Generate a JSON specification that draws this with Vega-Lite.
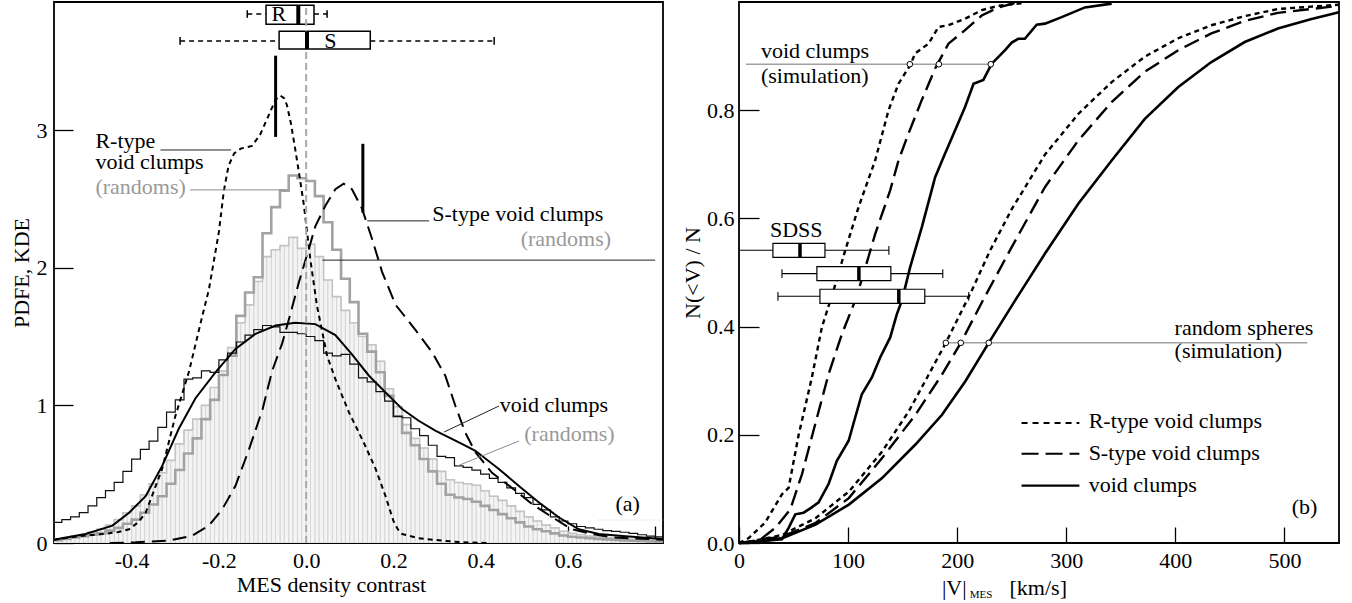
{
"$schema":"https://vega.github.io/schema/vega-lite/v6.json",
"padding":{"left":9,"top":-3,"right":5,"bottom":2},
"spacing":76,
"bounds":"flush",
"config":{
 "font":"Liberation Serif",
 "view":{"stroke":"black","strokeWidth":1.8},
 "axis":{"labelFont":"Liberation Serif","labelFontSize":22,"labelColor":"black","titleFont":"Liberation Serif","titleFontSize":22,"titleFontWeight":"normal","titleColor":"black","tickColor":"black","tickWidth":1.3,"domain":false,"grid":false,"labelFlush":false,"labelOverlap":false},
 "text":{"font":"Liberation Serif","fontSize":22,"baseline":"alphabetic"}
},
"datasets":{
"hist":[
{"x0":-0.58,"xm":-0.57,"x1":-0.56,"a":0.02,"b":0.03,"c":0.15},
{"x0":-0.56,"xm":-0.55,"x1":-0.54,"a":0.03,"b":0.04,"c":0.17},
{"x0":-0.54,"xm":-0.53,"x1":-0.52,"a":0.04,"b":0.05,"c":0.19},
{"x0":-0.52,"xm":-0.51,"x1":-0.50,"a":0.05,"b":0.06,"c":0.22},
{"x0":-0.50,"xm":-0.49,"x1":-0.48,"a":0.06,"b":0.08,"c":0.27},
{"x0":-0.48,"xm":-0.47,"x1":-0.46,"a":0.07,"b":0.10,"c":0.33},
{"x0":-0.46,"xm":-0.45,"x1":-0.44,"a":0.09,"b":0.13,"c":0.38},
{"x0":-0.44,"xm":-0.43,"x1":-0.42,"a":0.11,"b":0.17,"c":0.44},
{"x0":-0.42,"xm":-0.41,"x1":-0.40,"a":0.14,"b":0.22,"c":0.52},
{"x0":-0.40,"xm":-0.39,"x1":-0.38,"a":0.17,"b":0.27,"c":0.61},
{"x0":-0.38,"xm":-0.37,"x1":-0.36,"a":0.22,"b":0.35,"c":0.68},
{"x0":-0.36,"xm":-0.35,"x1":-0.34,"a":0.28,"b":0.43,"c":0.74},
{"x0":-0.34,"xm":-0.33,"x1":-0.32,"a":0.34,"b":0.51,"c":0.84},
{"x0":-0.32,"xm":-0.31,"x1":-0.30,"a":0.43,"b":0.60,"c":0.95},
{"x0":-0.30,"xm":-0.29,"x1":-0.28,"a":0.53,"b":0.72,"c":1.04},
{"x0":-0.28,"xm":-0.27,"x1":-0.26,"a":0.65,"b":0.82,"c":1.19},
{"x0":-0.26,"xm":-0.25,"x1":-0.24,"a":0.76,"b":0.90,"c":1.20},
{"x0":-0.24,"xm":-0.23,"x1":-0.22,"a":0.90,"b":1.00,"c":1.25},
{"x0":-0.22,"xm":-0.21,"x1":-0.20,"a":1.04,"b":1.13,"c":1.24},
{"x0":-0.20,"xm":-0.19,"x1":-0.18,"a":1.22,"b":1.25,"c":1.33},
{"x0":-0.18,"xm":-0.17,"x1":-0.16,"a":1.36,"b":1.42,"c":1.38},
{"x0":-0.16,"xm":-0.15,"x1":-0.14,"a":1.65,"b":1.60,"c":1.46},
{"x0":-0.14,"xm":-0.13,"x1":-0.12,"a":1.82,"b":1.73,"c":1.51},
{"x0":-0.12,"xm":-0.11,"x1":-0.10,"a":1.93,"b":1.90,"c":1.55},
{"x0":-0.10,"xm":-0.09,"x1":-0.08,"a":2.25,"b":2.08,"c":1.58},
{"x0":-0.08,"xm":-0.07,"x1":-0.06,"a":2.44,"b":2.13,"c":1.57},
{"x0":-0.06,"xm":-0.05,"x1":-0.04,"a":2.56,"b":2.16,"c":1.53},
{"x0":-0.04,"xm":-0.03,"x1":-0.02,"a":2.67,"b":2.22,"c":1.53},
{"x0":-0.02,"xm":-0.01,"x1":0.00,"a":2.65,"b":2.14,"c":1.52},
{"x0":0.00,"xm":0.01,"x1":0.02,"a":2.63,"b":2.17,"c":1.50},
{"x0":0.02,"xm":0.03,"x1":0.04,"a":2.52,"b":2.08,"c":1.47},
{"x0":0.04,"xm":0.05,"x1":0.06,"a":2.33,"b":1.91,"c":1.38},
{"x0":0.06,"xm":0.07,"x1":0.08,"a":2.13,"b":1.79,"c":1.36},
{"x0":0.08,"xm":0.09,"x1":0.10,"a":1.92,"b":1.69,"c":1.37},
{"x0":0.10,"xm":0.11,"x1":0.12,"a":1.75,"b":1.60,"c":1.30},
{"x0":0.12,"xm":0.13,"x1":0.14,"a":1.52,"b":1.50,"c":1.20},
{"x0":0.14,"xm":0.15,"x1":0.16,"a":1.39,"b":1.44,"c":1.17},
{"x0":0.16,"xm":0.17,"x1":0.18,"a":1.24,"b":1.32,"c":1.10},
{"x0":0.18,"xm":0.19,"x1":0.20,"a":1.07,"b":1.12,"c":1.03},
{"x0":0.20,"xm":0.21,"x1":0.22,"a":0.92,"b":0.99,"c":0.92},
{"x0":0.22,"xm":0.23,"x1":0.24,"a":0.80,"b":0.86,"c":0.91},
{"x0":0.24,"xm":0.25,"x1":0.26,"a":0.71,"b":0.76,"c":0.83},
{"x0":0.26,"xm":0.27,"x1":0.28,"a":0.61,"b":0.69,"c":0.78},
{"x0":0.28,"xm":0.29,"x1":0.30,"a":0.52,"b":0.61,"c":0.71},
{"x0":0.30,"xm":0.31,"x1":0.32,"a":0.43,"b":0.52,"c":0.63},
{"x0":0.32,"xm":0.33,"x1":0.34,"a":0.35,"b":0.46,"c":0.62},
{"x0":0.34,"xm":0.35,"x1":0.36,"a":0.33,"b":0.44,"c":0.56},
{"x0":0.36,"xm":0.37,"x1":0.38,"a":0.32,"b":0.43,"c":0.55},
{"x0":0.38,"xm":0.39,"x1":0.40,"a":0.30,"b":0.42,"c":0.53},
{"x0":0.40,"xm":0.41,"x1":0.42,"a":0.27,"b":0.38,"c":0.50},
{"x0":0.42,"xm":0.43,"x1":0.44,"a":0.24,"b":0.34,"c":0.47},
{"x0":0.44,"xm":0.45,"x1":0.46,"a":0.21,"b":0.31,"c":0.44},
{"x0":0.46,"xm":0.47,"x1":0.48,"a":0.18,"b":0.27,"c":0.40},
{"x0":0.48,"xm":0.49,"x1":0.50,"a":0.15,"b":0.23,"c":0.36},
{"x0":0.50,"xm":0.51,"x1":0.52,"a":0.12,"b":0.19,"c":0.33},
{"x0":0.52,"xm":0.53,"x1":0.54,"a":0.10,"b":0.16,"c":0.28},
{"x0":0.54,"xm":0.55,"x1":0.56,"a":0.085,"b":0.13,"c":0.24},
{"x0":0.56,"xm":0.57,"x1":0.58,"a":0.07,"b":0.11,"c":0.19},
{"x0":0.58,"xm":0.59,"x1":0.60,"a":0.055,"b":0.085,"c":0.16},
{"x0":0.60,"xm":0.61,"x1":0.62,"a":0.045,"b":0.07,"c":0.14},
{"x0":0.62,"xm":0.63,"x1":0.64,"a":0.04,"b":0.06,"c":0.12},
{"x0":0.64,"xm":0.65,"x1":0.66,"a":0.035,"b":0.05,"c":0.11},
{"x0":0.66,"xm":0.67,"x1":0.68,"a":0.03,"b":0.045,"c":0.10},
{"x0":0.68,"xm":0.69,"x1":0.70,"a":0.026,"b":0.04,"c":0.09},
{"x0":0.70,"xm":0.71,"x1":0.72,"a":0.022,"b":0.035,"c":0.085},
{"x0":0.72,"xm":0.73,"x1":0.74,"a":0.019,"b":0.03,"c":0.078},
{"x0":0.74,"xm":0.75,"x1":0.76,"a":0.016,"b":0.027,"c":0.07},
{"x0":0.76,"xm":0.77,"x1":0.78,"a":0.014,"b":0.024,"c":0.06},
{"x0":0.78,"xm":0.79,"x1":0.80,"a":0.012,"b":0.022,"c":0.05},
{"x0":0.80,"xm":0.81,"x1":0.82,"a":0.01,"b":0.02,"c":0.045},
{"x0":0.82,"xm":0.83,"x1":0.84,"a":0.01,"b":0.02,"c":0.045}
],
"kde":[
{"g":"R","x":-0.578,"y":0.024},{"g":"R","x":-0.52,"y":0.05},{"g":"R","x":-0.467,"y":0.065},{"g":"R","x":-0.43,"y":0.08},{"g":"R","x":-0.406,"y":0.1},{"g":"R","x":-0.385,"y":0.15},{"g":"R","x":-0.368,"y":0.22},{"g":"R","x":-0.35,"y":0.37},{"g":"R","x":-0.33,"y":0.54},{"g":"R","x":-0.3,"y":0.92},{"g":"R","x":-0.269,"y":1.24},{"g":"R","x":-0.238,"y":1.65},{"g":"R","x":-0.223,"y":1.84},{"g":"R","x":-0.2,"y":2.26},{"g":"R","x":-0.189,"y":2.55},{"g":"R","x":-0.178,"y":2.74},{"g":"R","x":-0.165,"y":2.83},{"g":"R","x":-0.15,"y":2.865},{"g":"R","x":-0.124,"y":2.885},{"g":"R","x":-0.105,"y":2.97},{"g":"R","x":-0.093,"y":3.055},{"g":"R","x":-0.08,"y":3.15},{"g":"R","x":-0.07,"y":3.22},{"g":"R","x":-0.059,"y":3.25},{"g":"R","x":-0.05,"y":3.23},{"g":"R","x":-0.044,"y":3.18},{"g":"R","x":-0.035,"y":3.05},{"g":"R","x":-0.025,"y":2.86},{"g":"R","x":-0.015,"y":2.66},{"g":"R","x":-0.005,"y":2.45},{"g":"R","x":0.01,"y":2.05},{"g":"R","x":0.025,"y":1.72},{"g":"R","x":0.048,"y":1.36},{"g":"R","x":0.067,"y":1.19},{"g":"R","x":0.098,"y":0.95},{"g":"R","x":0.132,"y":0.73},{"g":"R","x":0.159,"y":0.54},{"g":"R","x":0.182,"y":0.34},{"g":"R","x":0.2,"y":0.16},{"g":"R","x":0.21,"y":0.1},{"g":"R","x":0.22,"y":0.065},{"g":"R","x":0.258,"y":0.034},{"g":"R","x":0.312,"y":0.017},{"g":"R","x":0.357,"y":0.005},{"g":"R","x":0.42,"y":0.0},
{"g":"S","x":-0.45,"y":0.0},{"g":"S","x":-0.39,"y":0.005},{"g":"S","x":-0.315,"y":0.017},{"g":"S","x":-0.261,"y":0.053},{"g":"S","x":-0.223,"y":0.126},{"g":"S","x":-0.192,"y":0.247},{"g":"S","x":-0.162,"y":0.416},{"g":"S","x":-0.131,"y":0.68},{"g":"S","x":-0.1,"y":0.97},{"g":"S","x":-0.078,"y":1.25},{"g":"S","x":-0.055,"y":1.45},{"g":"S","x":-0.04,"y":1.62},{"g":"S","x":-0.017,"y":1.89},{"g":"S","x":0.006,"y":2.135},{"g":"S","x":0.021,"y":2.3},{"g":"S","x":0.044,"y":2.45},{"g":"S","x":0.067,"y":2.57},{"g":"S","x":0.086,"y":2.61},{"g":"S","x":0.105,"y":2.57},{"g":"S","x":0.128,"y":2.43},{"g":"S","x":0.151,"y":2.21},{"g":"S","x":0.174,"y":1.97},{"g":"S","x":0.205,"y":1.73},{"g":"S","x":0.25,"y":1.55},{"g":"S","x":0.289,"y":1.385},{"g":"S","x":0.319,"y":1.215},{"g":"S","x":0.342,"y":0.997},{"g":"S","x":0.365,"y":0.8},{"g":"S","x":0.388,"y":0.66},{"g":"S","x":0.426,"y":0.51},{"g":"S","x":0.472,"y":0.4},{"g":"S","x":0.518,"y":0.283},{"g":"S","x":0.564,"y":0.187},{"g":"S","x":0.609,"y":0.1},{"g":"S","x":0.655,"y":0.065},{"g":"S","x":0.701,"y":0.041},{"g":"S","x":0.747,"y":0.034},{"g":"S","x":0.818,"y":0.024},
{"g":"V","x":-0.578,"y":0.024},{"g":"V","x":-0.506,"y":0.065},{"g":"V","x":-0.444,"y":0.126},{"g":"V","x":-0.406,"y":0.22},{"g":"V","x":-0.368,"y":0.34},{"g":"V","x":-0.33,"y":0.56},{"g":"V","x":-0.292,"y":0.83},{"g":"V","x":-0.254,"y":1.05},{"g":"V","x":-0.208,"y":1.24},{"g":"V","x":-0.162,"y":1.41},{"g":"V","x":-0.116,"y":1.52},{"g":"V","x":-0.07,"y":1.58},{"g":"V","x":-0.025,"y":1.6},{"g":"V","x":0.021,"y":1.59},{"g":"V","x":0.067,"y":1.51},{"g":"V","x":0.105,"y":1.37},{"g":"V","x":0.144,"y":1.215},{"g":"V","x":0.182,"y":1.094},{"g":"V","x":0.22,"y":0.973},{"g":"V","x":0.258,"y":0.888},{"g":"V","x":0.296,"y":0.816},{"g":"V","x":0.357,"y":0.72},{"g":"V","x":0.388,"y":0.67},{"g":"V","x":0.441,"y":0.54},{"g":"V","x":0.487,"y":0.416},{"g":"V","x":0.533,"y":0.296},{"g":"V","x":0.579,"y":0.187},{"g":"V","x":0.625,"y":0.1},{"g":"V","x":0.671,"y":0.065},{"g":"V","x":0.732,"y":0.049},{"g":"V","x":0.818,"y":0.029}
],
"lseg":[
{"k":"zero","x":0,"x2":0,"y":0,"y2":3.9},
{"k":"bar","x":-0.07,"x2":-0.07,"y":2.95,"y2":3.54},
{"k":"bar","x":0.13,"x2":0.13,"y":2.4,"y2":2.9},
{"k":"lb","x":-0.334,"x2":-0.172,"y":2.855,"y2":2.855},
{"k":"lb","x":0.14,"x2":0.282,"y":2.34,"y2":2.34},
{"k":"lb","x":0.037,"x2":0.8,"y":2.055,"y2":2.055},
{"k":"lb","x":0.316,"x2":0.442,"y":0.806,"y2":0.995},
{"k":"lg","x":-0.266,"x2":-0.044,"y":2.565,"y2":2.565},
{"k":"lg","x":0.346,"x2":0.488,"y":0.559,"y2":0.741},
{"k":"dot","x":0.67,"x2":0.818,"y":0.167,"y2":0.167},
{"k":"wh","x":-0.135,"x2":-0.092,"y":3.842,"y2":3.842},
{"k":"wh","x":0.018,"x2":0.048,"y":3.842,"y2":3.842},
{"k":"wh","x":-0.289,"x2":-0.062,"y":3.646,"y2":3.646},
{"k":"wh","x":0.147,"x2":0.431,"y":3.646,"y2":3.646},
{"k":"cap","x":-0.135,"x2":-0.135,"y":3.815,"y2":3.87},
{"k":"cap","x":0.048,"x2":0.048,"y":3.815,"y2":3.87},
{"k":"cap","x":-0.289,"x2":-0.289,"y":3.62,"y2":3.675},
{"k":"cap","x":0.431,"x2":0.431,"y":3.62,"y2":3.675},
{"k":"med","x":-0.018,"x2":-0.018,"y":3.769,"y2":3.907},
{"k":"med","x":0.002,"x2":0.002,"y":3.588,"y2":3.718}
],
"lbox":[{"x":-0.092,"x2":0.018,"y":3.769,"y2":3.907},{"x":-0.062,"x2":0.147,"y":3.588,"y2":3.718}],
"ltext":[
{"g":"kl","t":"R-type","x":-0.483,"y":2.868},
{"g":"kl","t":"void clumps","x":-0.483,"y":2.716},
{"g":"gl","t":"(randoms)","x":-0.483,"y":2.534},
{"g":"kl","t":"S-type void clumps","x":0.289,"y":2.338},
{"g":"gr","t":"(randoms)","x":0.699,"y":2.157},
{"g":"kl","t":"void clumps","x":0.444,"y":0.954},
{"g":"gl","t":"(randoms)","x":0.5,"y":0.743},
{"g":"kr","t":"(a)","x":0.765,"y":0.235},
{"g":"kc","t":"R","x":-0.0626,"y":3.84},
{"g":"kc","t":"S","x":0.0557,"y":3.65}
],
"cdf":[
{"g":"oR","x":0,"y":0},{"g":"oR","x":8.9,"y":0.009},{"g":"oR","x":24,"y":0.038},{"g":"oR","x":39.4,"y":0.09},{"g":"oR","x":45.5,"y":0.102},{"g":"oR","x":54.7,"y":0.2},{"g":"oR","x":66.8,"y":0.306},{"g":"oR","x":76,"y":0.399},{"g":"oR","x":86.7,"y":0.467},{"g":"oR","x":97.4,"y":0.541},{"g":"oR","x":109.6,"y":0.621},{"g":"oR","x":124.8,"y":0.707},{"g":"oR","x":137.1,"y":0.8},{"g":"oR","x":146.2,"y":0.849},{"g":"oR","x":156.9,"y":0.883},{"g":"oR","x":161.5,"y":0.905},{"g":"oR","x":173.7,"y":0.923},{"g":"oR","x":182.9,"y":0.954},{"g":"oR","x":192,"y":0.957},{"g":"oR","x":207.2,"y":0.969},{"g":"oR","x":222.5,"y":0.985},{"g":"oR","x":237.8,"y":0.993},{"g":"oR","x":260,"y":0.998},
{"g":"oS","x":0,"y":0},{"g":"oS","x":10,"y":0.001},{"g":"oS","x":18,"y":0.004},{"g":"oS","x":33.3,"y":0.028},{"g":"oS","x":47,"y":0.062},{"g":"oS","x":57.7,"y":0.127},{"g":"oS","x":69.9,"y":0.22},{"g":"oS","x":82.1,"y":0.312},{"g":"oS","x":94.3,"y":0.386},{"g":"oS","x":106.5,"y":0.448},{"g":"oS","x":114.2,"y":0.498},{"g":"oS","x":124.8,"y":0.571},{"g":"oS","x":138.6,"y":0.652},{"g":"oS","x":146.2,"y":0.707},{"g":"oS","x":155.4,"y":0.757},{"g":"oS","x":167.6,"y":0.819},{"g":"oS","x":179.8,"y":0.877},{"g":"oS","x":192,"y":0.923},{"g":"oS","x":207.2,"y":0.948},{"g":"oS","x":222.5,"y":0.975},{"g":"oS","x":237.8,"y":0.99},{"g":"oS","x":252.7,"y":0.998},
{"g":"oV","x":0,"y":0},{"g":"oV","x":39.4,"y":0.007},{"g":"oV","x":45.5,"y":0.028},{"g":"oV","x":51.6,"y":0.053},{"g":"oV","x":59.2,"y":0.056},{"g":"oV","x":66,"y":0.065},{"g":"oV","x":73,"y":0.075},{"g":"oV","x":82.1,"y":0.109},{"g":"oV","x":89.7,"y":0.152},{"g":"oV","x":100.5,"y":0.189},{"g":"oV","x":106.5,"y":0.232},{"g":"oV","x":112.6,"y":0.275},{"g":"oV","x":121.8,"y":0.306},{"g":"oV","x":129.4,"y":0.343},{"g":"oV","x":138.6,"y":0.38},{"g":"oV","x":144.7,"y":0.423},{"g":"oV","x":149.3,"y":0.448},{"g":"oV","x":156.9,"y":0.51},{"g":"oV","x":167.6,"y":0.584},{"g":"oV","x":179.8,"y":0.676},{"g":"oV","x":188.9,"y":0.72},{"g":"oV","x":198.1,"y":0.763},{"g":"oV","x":207.2,"y":0.806},{"g":"oV","x":215,"y":0.849},{"g":"oV","x":224,"y":0.856},{"g":"oV","x":231.7,"y":0.886},{"g":"oV","x":243.9,"y":0.911},{"g":"oV","x":250,"y":0.925},{"g":"oV","x":256,"y":0.932},{"g":"oV","x":262,"y":0.932},{"g":"oV","x":272.9,"y":0.958},{"g":"oV","x":280.5,"y":0.96},{"g":"oV","x":295.8,"y":0.972},{"g":"oV","x":317.1,"y":0.99},{"g":"oV","x":341.6,"y":0.997},
{"g":"sR","x":0,"y":0},{"g":"sR","x":9,"y":0.002},{"g":"sR","x":39.7,"y":0.015},{"g":"sR","x":70.2,"y":0.046},{"g":"sR","x":100.7,"y":0.095},{"g":"sR","x":131.2,"y":0.169},{"g":"sR","x":155.5,"y":0.243},{"g":"sR","x":173.8,"y":0.311},{"g":"sR","x":189.6,"y":0.37},{"g":"sR","x":213,"y":0.465},{"g":"sR","x":230,"y":0.54},{"g":"sR","x":250,"y":0.617},{"g":"sR","x":280.5,"y":0.718},{"g":"sR","x":311,"y":0.793},{"g":"sR","x":341.6,"y":0.852},{"g":"sR","x":372,"y":0.899},{"g":"sR","x":402.7,"y":0.933},{"g":"sR","x":433,"y":0.957},{"g":"sR","x":463.6,"y":0.974},{"g":"sR","x":494,"y":0.987},{"g":"sR","x":550,"y":0.995},
{"g":"sS","x":0,"y":0},{"g":"sS","x":39.7,"y":0.012},{"g":"sS","x":70.2,"y":0.037},{"g":"sS","x":100.7,"y":0.083},{"g":"sS","x":131.2,"y":0.157},{"g":"sS","x":161.7,"y":0.237},{"g":"sS","x":186,"y":0.311},{"g":"sS","x":203.3,"y":0.37},{"g":"sS","x":224,"y":0.45},{"g":"sS","x":250,"y":0.547},{"g":"sS","x":280.5,"y":0.658},{"g":"sS","x":311,"y":0.744},{"g":"sS","x":341.6,"y":0.815},{"g":"sS","x":372,"y":0.871},{"g":"sS","x":402.7,"y":0.911},{"g":"sS","x":433,"y":0.942},{"g":"sS","x":463.6,"y":0.965},{"g":"sS","x":494,"y":0.98},{"g":"sS","x":550,"y":0.993},
{"g":"sV","x":0,"y":0},{"g":"sV","x":9,"y":0.0},{"g":"sV","x":39.7,"y":0.009},{"g":"sV","x":70.2,"y":0.034},{"g":"sV","x":100.7,"y":0.071},{"g":"sV","x":131.2,"y":0.12},{"g":"sV","x":161.7,"y":0.182},{"g":"sV","x":186.1,"y":0.237},{"g":"sV","x":207.5,"y":0.299},{"g":"sV","x":228.9,"y":0.37},{"g":"sV","x":253,"y":0.448},{"g":"sV","x":280.5,"y":0.535},{"g":"sV","x":311,"y":0.627},{"g":"sV","x":341.6,"y":0.707},{"g":"sV","x":372,"y":0.784},{"g":"sV","x":402.7,"y":0.843},{"g":"sV","x":433,"y":0.889},{"g":"sV","x":463.6,"y":0.926},{"g":"sV","x":494,"y":0.951},{"g":"sV","x":524,"y":0.968},{"g":"sV","x":550,"y":0.981}
],
"rseg":[
{"k":"g","x":6.4,"x2":230.8,"y":0.885,"y2":0.885},
{"k":"g","x":189.6,"x2":521,"y":0.37,"y2":0.37},
{"k":"w","x":0,"x2":31.1,"y":0.541,"y2":0.541},
{"k":"w","x":78.8,"x2":137.4,"y":0.541,"y2":0.541},
{"k":"w","x":39.4,"x2":71.4,"y":0.498,"y2":0.498},
{"k":"w","x":139.2,"x2":186.8,"y":0.498,"y2":0.498},
{"k":"w","x":35.7,"x2":74.2,"y":0.456,"y2":0.456},
{"k":"w","x":170.3,"x2":210.6,"y":0.456,"y2":0.456},
{"k":"c","x":137.4,"x2":137.4,"y":0.533,"y2":0.549},
{"k":"c","x":39.4,"x2":39.4,"y":0.49,"y2":0.506},
{"k":"c","x":186.8,"x2":186.8,"y":0.49,"y2":0.506},
{"k":"c","x":35.7,"x2":35.7,"y":0.448,"y2":0.464},
{"k":"c","x":210.6,"x2":210.6,"y":0.448,"y2":0.464},
{"k":"m","x":55.9,"x2":55.9,"y":0.528,"y2":0.554},
{"k":"m","x":109.9,"x2":109.9,"y":0.485,"y2":0.511},
{"k":"m","x":146.5,"x2":146.5,"y":0.443,"y2":0.469},
{"k":"lR","x":259,"x2":312,"y":0.222,"y2":0.222},
{"k":"lS","x":259,"x2":312,"y":0.165,"y2":0.165},
{"k":"lV","x":259,"x2":312,"y":0.106,"y2":0.106}
],
"rbox":[{"x":31.1,"x2":78.8,"y":0.528,"y2":0.554},{"x":71.4,"x2":139.2,"y":0.485,"y2":0.511},{"x":74.2,"x2":170.3,"y":0.443,"y2":0.469}],
"rpts":[{"x":156.6,"y":0.885},{"x":183.2,"y":0.885},{"x":230.8,"y":0.885},{"x":189.6,"y":0.37},{"x":203.3,"y":0.37},{"x":228.9,"y":0.37}],
"rtext":[
{"g":"kl","t":"void clumps","x":20.1,"y":0.896},
{"g":"kl","t":"(simulation)","x":20.1,"y":0.85},
{"g":"kl","t":"SDSS","x":28.4,"y":0.565},
{"g":"kl","t":"random spheres","x":399.3,"y":0.385},
{"g":"kl","t":"(simulation)","x":399.3,"y":0.342},
{"g":"kl","t":"R-type void clumps","x":320.5,"y":0.212},
{"g":"kl","t":"S-type void clumps","x":320.5,"y":0.153},
{"g":"kl","t":"void clumps","x":320.5,"y":0.095},
{"g":"kr","t":"(b)","x":530.2,"y":0.053},
{"g":"kl","t":"|V|","x":186,"y":-0.096},
{"g":"kl","t":"[km/s]","x":248,"y":-0.096},
{"g":"sub","t":"MES","x":211.5,"y":-0.101}
]
},
"hconcat":[
{
"width":609,"height":541,
"layer":[
{"data":{"name":"hist"},"mark":{"type":"rect","fill":"#f4f4f4","stroke":"#d4d4d4","strokeWidth":0.9,"clip":true},
 "encoding":{
  "x":{"field":"x0","type":"quantitative","scale":{"domain":[-0.578,0.818],"nice":false,"zero":false},
       "axis":{"values":[-0.4,-0.2,0,0.2,0.4,0.6,0.8],"labelExpr":"datum.value > 0.7 ? '' : replace(format(datum.value,'.1f'),'−','-')","tickSize":-17,"labelPadding":24,"title":"MES density contrast","titlePadding":3,"titleX":277}},
  "x2":{"field":"xm"},
  "y":{"field":"b","type":"quantitative","scale":{"domain":[0,3.93],"nice":false},
       "axis":{"values":[0,1,2,3],"format":"d","tickSize":-19,"labelPadding":26,"title":"PDFE, KDE","titlePadding":3}},
  "y2":{"datum":0}}},
{"data":{"name":"hist"},"mark":{"type":"rect","fill":"#f4f4f4","stroke":"#d4d4d4","strokeWidth":0.9,"clip":true},
 "encoding":{"x":{"field":"xm","type":"quantitative"},"x2":{"field":"x1"},"y":{"field":"b","type":"quantitative"},"y2":{"datum":0}}},
{"data":{"name":"hist"},"mark":{"type":"line","interpolate":"step-after","stroke":"#c4c4c4","strokeWidth":1.6,"clip":true},
 "encoding":{"x":{"field":"x0","type":"quantitative"},"y":{"field":"b","type":"quantitative"}}},
{"data":{"name":"hist"},"mark":{"type":"line","interpolate":"step-after","stroke":"#a2a2a2","strokeWidth":2.6,"clip":true},
 "encoding":{"x":{"field":"x0","type":"quantitative"},"y":{"field":"a","type":"quantitative"}}},
{"data":{"name":"hist"},"mark":{"type":"line","interpolate":"step-after","stroke":"#111111","strokeWidth":1.2,"clip":true},
 "encoding":{"x":{"field":"x0","type":"quantitative"},"y":{"field":"c","type":"quantitative"}}},
{"data":{"name":"kde"},"transform":[{"filter":"datum.g=='V'"}],"mark":{"type":"line","stroke":"black","strokeWidth":2},
 "encoding":{"x":{"field":"x","type":"quantitative"},"y":{"field":"y","type":"quantitative"}}},
{"data":{"name":"kde"},"transform":[{"filter":"datum.g=='S'"}],"mark":{"type":"line","stroke":"black","strokeWidth":2,"strokeDash":[14,7]},
 "encoding":{"x":{"field":"x","type":"quantitative"},"y":{"field":"y","type":"quantitative"}}},
{"data":{"name":"kde"},"transform":[{"filter":"datum.g=='R'"}],"mark":{"type":"line","stroke":"black","strokeWidth":2,"strokeDash":[5,4]},
 "encoding":{"x":{"field":"x","type":"quantitative"},"y":{"field":"y","type":"quantitative"}}},
{"data":{"name":"lbox"},"mark":{"type":"rect","fill":"white","stroke":"black","strokeWidth":1.5},
 "encoding":{"x":{"field":"x","type":"quantitative"},"x2":{"field":"x2"},"y":{"field":"y","type":"quantitative"},"y2":{"field":"y2"}}},
{"data":{"name":"lseg"},"transform":[{"filter":"datum.k=='zero'"}],"mark":{"type":"rule","stroke":"#aaaaaa","strokeWidth":2,"strokeDash":[7,4]},
 "encoding":{"x":{"field":"x","type":"quantitative"},"x2":{"field":"x2"},"y":{"field":"y","type":"quantitative"},"y2":{"field":"y2"}}},
{"data":{"name":"lseg"},"transform":[{"filter":"datum.k=='bar'"}],"mark":{"type":"rule","stroke":"black","strokeWidth":3},
 "encoding":{"x":{"field":"x","type":"quantitative"},"x2":{"field":"x2"},"y":{"field":"y","type":"quantitative"},"y2":{"field":"y2"}}},
{"data":{"name":"lseg"},"transform":[{"filter":"datum.k=='lb'"}],"mark":{"type":"rule","stroke":"#222222","strokeWidth":1},
 "encoding":{"x":{"field":"x","type":"quantitative"},"x2":{"field":"x2"},"y":{"field":"y","type":"quantitative"},"y2":{"field":"y2"}}},
{"data":{"name":"lseg"},"transform":[{"filter":"datum.k=='lg'"}],"mark":{"type":"rule","stroke":"#8c8c8c","strokeWidth":1},
 "encoding":{"x":{"field":"x","type":"quantitative"},"x2":{"field":"x2"},"y":{"field":"y","type":"quantitative"},"y2":{"field":"y2"}}},
{"data":{"name":"lseg"},"transform":[{"filter":"datum.k=='dot'"}],"mark":{"type":"rule","stroke":"#cccccc","strokeWidth":1,"strokeDash":[1,2]},
 "encoding":{"x":{"field":"x","type":"quantitative"},"x2":{"field":"x2"},"y":{"field":"y","type":"quantitative"},"y2":{"field":"y2"}}},
{"data":{"name":"lseg"},"transform":[{"filter":"datum.k=='wh'"}],"mark":{"type":"rule","stroke":"black","strokeWidth":1.5,"strokeDash":[5,4]},
 "encoding":{"x":{"field":"x","type":"quantitative"},"x2":{"field":"x2"},"y":{"field":"y","type":"quantitative"},"y2":{"field":"y2"}}},
{"data":{"name":"lseg"},"transform":[{"filter":"datum.k=='cap'"}],"mark":{"type":"rule","stroke":"black","strokeWidth":1.5},
 "encoding":{"x":{"field":"x","type":"quantitative"},"x2":{"field":"x2"},"y":{"field":"y","type":"quantitative"},"y2":{"field":"y2"}}},
{"data":{"name":"lseg"},"transform":[{"filter":"datum.k=='med'"}],"mark":{"type":"rule","stroke":"black","strokeWidth":4},
 "encoding":{"x":{"field":"x","type":"quantitative"},"x2":{"field":"x2"},"y":{"field":"y","type":"quantitative"},"y2":{"field":"y2"}}},
{"data":{"name":"ltext"},"transform":[{"filter":"datum.g=='kl'"}],"mark":{"type":"text","align":"left","color":"black"},
 "encoding":{"x":{"field":"x","type":"quantitative"},"y":{"field":"y","type":"quantitative"},"text":{"field":"t"}}},
{"data":{"name":"ltext"},"transform":[{"filter":"datum.g=='gl'"}],"mark":{"type":"text","align":"left","color":"#999999"},
 "encoding":{"x":{"field":"x","type":"quantitative"},"y":{"field":"y","type":"quantitative"},"text":{"field":"t"}}},
{"data":{"name":"ltext"},"transform":[{"filter":"datum.g=='gr'"}],"mark":{"type":"text","align":"right","color":"#999999"},
 "encoding":{"x":{"field":"x","type":"quantitative"},"y":{"field":"y","type":"quantitative"},"text":{"field":"t"}}},
{"data":{"name":"ltext"},"transform":[{"filter":"datum.g=='kr'"}],"mark":{"type":"text","align":"right","color":"black"},
 "encoding":{"x":{"field":"x","type":"quantitative"},"y":{"field":"y","type":"quantitative"},"text":{"field":"t"}}},
{"data":{"name":"ltext"},"transform":[{"filter":"datum.g=='kc'"}],"mark":{"type":"text","align":"center","baseline":"middle","color":"black"},
 "encoding":{"x":{"field":"x","type":"quantitative"},"y":{"field":"y","type":"quantitative"},"text":{"field":"t"}}}
]
},
{
"width":600,"height":541,
"layer":[
{"data":{"name":"rseg"},"transform":[{"filter":"datum.k=='g'"}],"mark":{"type":"rule","stroke":"#a0a0a0","strokeWidth":1.5},
 "encoding":{
  "x":{"field":"x","type":"quantitative","scale":{"domain":[0,550],"nice":false,"zero":false},
       "axis":{"values":[0,100,200,300,400,500],"format":"d","tickSize":-16,"labelPadding":23,"title":null}},
  "x2":{"field":"x2"},
  "y":{"field":"y","type":"quantitative","scale":{"domain":[0,1],"nice":false},
       "axis":{"values":[0,0.2,0.4,0.6,0.8],"format":".1f","tickSize":-20,"labelPadding":25,"title":"N(<V) / N","titlePadding":2}},
  "y2":{"field":"y2"}}},
{"data":{"name":"cdf"},"transform":[{"filter":"datum.g=='oR' || datum.g=='sR'"}],"mark":{"type":"line","stroke":"black","strokeWidth":2.4,"strokeDash":[5,4]},
 "encoding":{"x":{"field":"x","type":"quantitative"},"y":{"field":"y","type":"quantitative"},"detail":{"field":"g"}}},
{"data":{"name":"cdf"},"transform":[{"filter":"datum.g=='oS' || datum.g=='sS'"}],"mark":{"type":"line","stroke":"black","strokeWidth":2.4,"strokeDash":[16,7]},
 "encoding":{"x":{"field":"x","type":"quantitative"},"y":{"field":"y","type":"quantitative"},"detail":{"field":"g"}}},
{"data":{"name":"cdf"},"transform":[{"filter":"datum.g=='oV' || datum.g=='sV'"}],"mark":{"type":"line","stroke":"black","strokeWidth":2.6},
 "encoding":{"x":{"field":"x","type":"quantitative"},"y":{"field":"y","type":"quantitative"},"detail":{"field":"g"}}},
{"data":{"name":"rbox"},"mark":{"type":"rect","fill":"white","stroke":"black","strokeWidth":1.2},
 "encoding":{"x":{"field":"x","type":"quantitative"},"x2":{"field":"x2"},"y":{"field":"y","type":"quantitative"},"y2":{"field":"y2"}}},
{"data":{"name":"rseg"},"transform":[{"filter":"datum.k=='w' || datum.k=='c'"}],"mark":{"type":"rule","stroke":"black","strokeWidth":1.1},
 "encoding":{"x":{"field":"x","type":"quantitative"},"x2":{"field":"x2"},"y":{"field":"y","type":"quantitative"},"y2":{"field":"y2"}}},
{"data":{"name":"rseg"},"transform":[{"filter":"datum.k=='m'"}],"mark":{"type":"rule","stroke":"black","strokeWidth":3.5},
 "encoding":{"x":{"field":"x","type":"quantitative"},"x2":{"field":"x2"},"y":{"field":"y","type":"quantitative"},"y2":{"field":"y2"}}},
{"data":{"name":"rseg"},"transform":[{"filter":"datum.k=='lR'"}],"mark":{"type":"rule","stroke":"black","strokeWidth":2,"strokeDash":[6,5]},
 "encoding":{"x":{"field":"x","type":"quantitative"},"x2":{"field":"x2"},"y":{"field":"y","type":"quantitative"},"y2":{"field":"y2"}}},
{"data":{"name":"rseg"},"transform":[{"filter":"datum.k=='lS'"}],"mark":{"type":"rule","stroke":"black","strokeWidth":2,"strokeDash":[17,7]},
 "encoding":{"x":{"field":"x","type":"quantitative"},"x2":{"field":"x2"},"y":{"field":"y","type":"quantitative"},"y2":{"field":"y2"}}},
{"data":{"name":"rseg"},"transform":[{"filter":"datum.k=='lV'"}],"mark":{"type":"rule","stroke":"black","strokeWidth":2.2},
 "encoding":{"x":{"field":"x","type":"quantitative"},"x2":{"field":"x2"},"y":{"field":"y","type":"quantitative"},"y2":{"field":"y2"}}},
{"data":{"name":"rpts"},"mark":{"type":"point","shape":"circle","filled":true,"fill":"white","stroke":"black","strokeWidth":1,"size":32,"opacity":1},
 "encoding":{"x":{"field":"x","type":"quantitative"},"y":{"field":"y","type":"quantitative"}}},
{"data":{"name":"rtext"},"transform":[{"filter":"datum.g=='kl'"}],"mark":{"type":"text","align":"left","color":"black"},
 "encoding":{"x":{"field":"x","type":"quantitative"},"y":{"field":"y","type":"quantitative"},"text":{"field":"t"}}},
{"data":{"name":"rtext"},"transform":[{"filter":"datum.g=='kr'"}],"mark":{"type":"text","align":"right","color":"black"},
 "encoding":{"x":{"field":"x","type":"quantitative"},"y":{"field":"y","type":"quantitative"},"text":{"field":"t"}}},
{"data":{"name":"rtext"},"transform":[{"filter":"datum.g=='sub'"}],"mark":{"type":"text","align":"left","color":"black","fontSize":11},
 "encoding":{"x":{"field":"x","type":"quantitative"},"y":{"field":"y","type":"quantitative"},"text":{"field":"t"}}}
]
}
]
}
